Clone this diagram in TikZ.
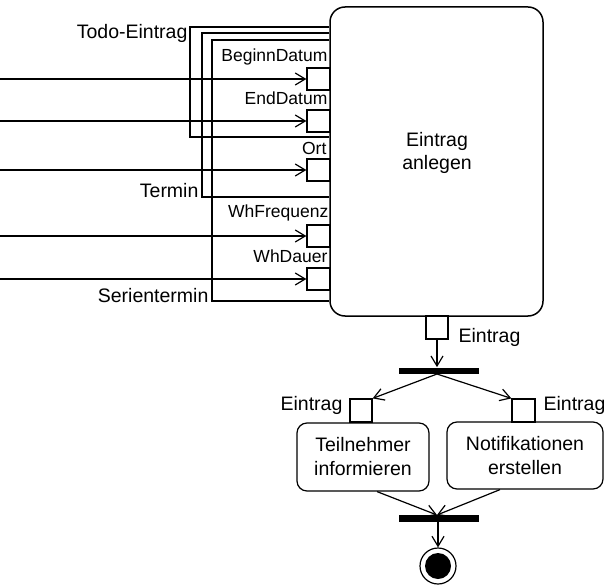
\documentclass[tikz,border=0pt]{standalone}
\usepackage{fontspec}
\setmainfont{Liberation Sans}
\usetikzlibrary{arrows.meta}
\tikzset{
  x=1pt, y=-1pt,
  every path/.style={line width=1.2pt},
  flow/.style={-{Straight Barb[length=10pt,width=12pt,line width=1.2pt]}},
  pinbox/.style={draw, fill=white, inner sep=0pt, minimum width=23pt, minimum height=22pt},
  actionbox/.style={draw, rounded corners=10pt, align=center, inner sep=0pt,
    font=\fontsize{19.5}{24}\selectfont},
  biglabel/.style={inner sep=0pt, font=\fontsize{19.5}{23}\selectfont},
  smalllabel/.style={inner sep=0pt, font=\fontsize{17.5}{20}\selectfont},
  bar/.style={fill=black, inner sep=0pt, minimum width=80pt, minimum height=6.5pt},
}
\begin{document}
\begin{tikzpicture}
\useasboundingbox (0,0) rectangle (604,585);

% main action
\node[actionbox, rounded corners=15pt, line width=1.5pt, minimum width=213pt, minimum height=309pt]
  (main) at (436.5,161.5) {};
\node[biglabel, align=center] (maintext) at (437,153) {Eintrag\\anlegen};

% input pins
\node[pinbox] (p1) at (318.5,79) {};
\node[pinbox] (p2) at (318.5,121) {};
\node[pinbox] (p3) at (318.5,170) {};
\node[pinbox] (p4) at (318.5,236) {};
\node[pinbox] (p5) at (318.5,279) {};

\node[smalllabel, anchor=base east] (l1) at (328,62) {BeginnDatum};
\node[smalllabel, anchor=base east] (l2) at (328,105) {EndDatum};
\node[smalllabel, anchor=base east] (l3) at (327,155) {Ort};
\node[smalllabel, anchor=base east] (l4) at (329,218) {WhFrequenz};
\node[smalllabel, anchor=base east] (l5) at (328,262) {WhDauer};

% incoming object flows
\coordinate (s1) at (0,79);
\coordinate (s2) at (0,121);
\coordinate (s3) at (0,170);
\coordinate (s4) at (0,236);
\coordinate (s5) at (0,279);
\foreach \i in {1,...,5} \draw[flow] (s\i) -- (p\i.west);

% parameter sets
\coordinate (todoA) at (190,27);
\coordinate (todoB) at (190,137);
\coordinate (terA) at (202,33);
\coordinate (terB) at (202,197);
\coordinate (serA) at (212,40);
\coordinate (serB) at (212,301);
\draw (main.west |- todoA) -- (todoA) -- (todoB) -- (main.west |- todoB);
\draw (main.west |- terA) -- (terA) -- (terB) -- (main.west |- terB);
\draw (main.west |- serA) -- (serA) -- (serB) -- (main.west |- serB);

\node[biglabel, anchor=base east] (todo) at (188,39) {Todo-Eintrag};
\node[biglabel, anchor=base east] (termin) at (199,197) {Termin};
\node[biglabel, anchor=base east] (serie) at (209,302) {Serientermin};

% output pin and fork
\node[pinbox, minimum width=22pt, minimum height=23pt] (opin) at (437,327.5) {};
\node[biglabel, anchor=base west] (olab) at (458,342) {Eintrag};
\node[bar] (fork) at (439,371) {};
\draw[flow] (opin.south) -- (opin.south |- fork.north);

% parallel actions
\node[actionbox, minimum width=132pt, minimum height=68pt] (lact) at (363,457) {Teilnehmer\\informieren};
\node[actionbox, minimum width=156pt, minimum height=67pt] (ract) at (525,455.5) {Notifikationen\\erstellen};
\node[pinbox, minimum width=22pt, minimum height=23pt] (lpin) at (361,410.5) {};
\node[pinbox, minimum width=23pt, minimum height=23pt] (rpin) at (523.5,410.5) {};
\node[biglabel, anchor=base east] (llab) at (343,410) {Eintrag};
\node[biglabel, anchor=base west] (rlab) at (543,410) {Eintrag};

\coordinate (forkout) at (437,374);
\draw[flow] (forkout) -- (lpin.north east);
\draw[flow] (forkout) -- (rpin.north west);

% join and final node
\node[bar] (join) at (439,518.5) {};
\coordinate (joinin) at (437,515);
\draw[flow] ([xshift=14pt]lact.south) -- (joinin);
\draw[flow] ([xshift=-25pt]ract.south) -- (joinin);

\node[draw, circle, minimum size=36pt, inner sep=0pt] (final) at (438,566) {};
\fill (final.center) circle (13);
\draw[flow] (join.south -| final) -- (final.north);
\end{tikzpicture}
\end{document}
